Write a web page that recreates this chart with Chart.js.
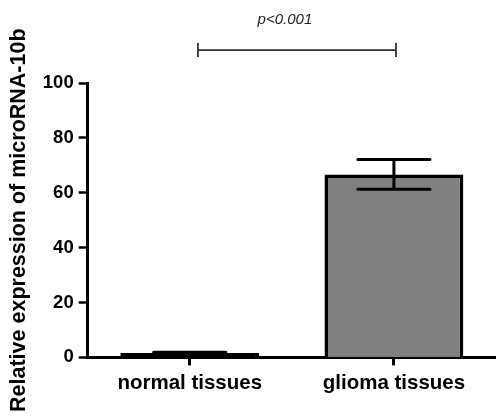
<!DOCTYPE html>
<html>
<head>
<meta charset="utf-8">
<script src="https://cdn.jsdelivr.net/npm/chart.js@4.4.1/dist/chart.umd.min.js"></script>
<style>
  html, body { margin: 0; padding: 0; background: #fff; }
  #wrap { width: 496px; height: 418px; }
</style>
</head>
<body>
<div id="wrap"><canvas id="chart"></canvas></div>
<script>
const categories = ['normal tissues', 'glioma tissues'];
const means = [1.6, 66.7];
const errors = [0.3, 5.4];
const yTicks = [0, 20, 40, 60, 80, 100];
const pLabel = 'p<0.001';
const bracketLevel = 112;

const font = 'Liberation Sans, Arial, Helvetica, sans-serif';

// error bars drawn over the bars, using the chart scales
const errorBars = {
    id: 'errorBars',
    afterDatasetsDraw(chart) {
        const ctx = chart.ctx;
        const y = chart.scales.y;
        const meta = chart.getDatasetMeta(0);
        ctx.save();
        ctx.strokeStyle = '#000';
        ctx.lineWidth = 3;
        ctx.lineCap = 'round';
        means.forEach((m, i) => {
            const bar = meta.data[i];
            const cx = bar.x;
            const half = bar.width * 0.26;
            const top = y.getPixelForValue(m + errors[i]);
            const bot = y.getPixelForValue(m - errors[i]);
            ctx.beginPath();
            ctx.moveTo(cx, top); ctx.lineTo(cx, bot);
            ctx.moveTo(cx - half, top); ctx.lineTo(cx + half, top);
            ctx.moveTo(cx - half, bot); ctx.lineTo(cx + half, bot);
            ctx.stroke();
        });
        ctx.restore();
    }
};

// significance bracket above the bars
const bracket = {
    id: 'bracket',
    afterDraw(chart) {
        const ctx = chart.ctx;
        const x = chart.scales.x, y = chart.scales.y;
        const x1 = x.getPixelForValue(0.04);
        const x2 = x.getPixelForValue(1.01);
        const yy = y.getPixelForValue(bracketLevel);
        ctx.save();
        ctx.strokeStyle = '#333';
        ctx.lineWidth = 1.8;
        ctx.beginPath();
        ctx.moveTo(x1, yy); ctx.lineTo(x2, yy);
        ctx.moveTo(x1, yy - 7); ctx.lineTo(x1, yy + 7);
        ctx.moveTo(x2, yy - 7); ctx.lineTo(x2, yy + 7);
        ctx.stroke();
        ctx.fillStyle = '#222';
        ctx.font = 'italic 15px ' + font;
        ctx.textAlign = 'center';
        ctx.textBaseline = 'middle';
        ctx.fillText(pLabel, (x1 + x2) / 2 - 12, yy - 30);
        ctx.restore();
    }
};

const ctx = document.getElementById('chart').getContext('2d');
new Chart(ctx, {
    type: 'bar',
    data: {
        labels: categories,
        datasets: [{
            data: means,
            backgroundColor: ['#000000', '#808080'],
            borderColor: '#000',
            borderWidth: 3.5,
            barPercentage: 0.68,
            categoryPercentage: 1
        }]
    },
    options: {
        responsive: true,
        maintainAspectRatio: false,
        animation: false,
        layout: { padding: { top: 83, left: 6, right: 0, bottom: 16 } },
        plugins: { legend: { display: false }, tooltip: { enabled: false } },
        scales: {
            x: {
                grid: { display: true, drawOnChartArea: false, offset: false, tickLength: 8, tickWidth: 3, tickColor: '#000' },
                border: { display: true, color: '#000', width: 3 },
                ticks: { color: '#000', padding: 6, font: { family: font, size: 20.5, weight: 'bold' } }
            },
            y: {
                min: 0,
                max: 100,
                afterBuildTicks: axis => { axis.ticks = yTicks.map(v => ({ value: v })); },
                grid: { display: true, drawOnChartArea: false, tickLength: 9, tickWidth: 2.5, tickColor: '#000' },
                border: { display: true, color: '#000', width: 3 },
                ticks: { color: '#000', padding: 5, font: { family: font, size: 18.5, weight: 'bold' } },
                title: {
                    display: true,
                    text: 'Relative expression of microRNA-10b',
                    color: '#000',
                    padding: { top: 0, bottom: 6 },
                    font: { family: font, size: 21.5, weight: 'bold' }
                }
            }
        }
    },
    plugins: [errorBars, bracket]
});
</script>
</body>
</html>
